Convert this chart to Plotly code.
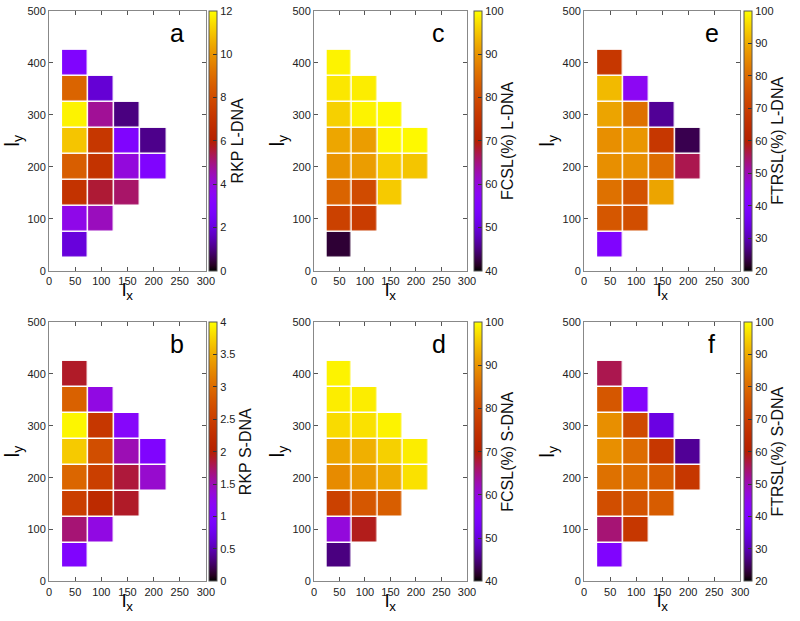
import numpy as np
import plotly.graph_objects as go

# ---------------- data ----------------
x_centers = [50, 100, 150, 200]
y_centers = [50, 100, 150, 200, 250, 300, 350, 400]
N = None

# rows: y = 50 ... 400 ; columns: x = 50, 100, 150, 200
rkp_l_dna = [
    [2.0, N, N, N],
    [3.8, 4.4, N, N],
    [7.0, 5.6, 5.2, N],
    [8.6, 7.0, 4.0, 3.0],
    [11.0, 7.2, 3.0, 1.1],
    [11.8, 4.8, 1.0, N],
    [8.8, 1.9, N, N],
    [3.0, N, N, N],
]
rkp_s_dna = [
    [1.0, N, N, N],
    [1.7, 1.3, N, N],
    [2.5, 2.2, 1.9, N],
    [2.95, 2.5, 1.85, 1.4],
    [3.7, 2.7, 1.5, 1.0],
    [3.95, 2.4, 1.1, N],
    [2.9, 1.3, N, N],
    [1.9, N, N, N],
]
fcsl_l_dna = [
    [42, N, N, N],
    [78, 77, N, N],
    [84, 80, 95.5, N],
    [90, 91, 95.5, 95],
    [92, 91, 99.5, 99.5],
    [96, 99, 99.5, N],
    [98, 98.5, N, N],
    [99, N, N, N],
]
fcsl_s_dna = [
    [45, N, N, N],
    [60, 69, N, N],
    [78, 82, 83, N],
    [89, 90.5, 92.5, 97.5],
    [92, 93, 96, 98.5],
    [97, 97.5, 99, N],
    [98.5, 98.5, N, N],
    [99, N, N, N],
]
ftrsl_l_dna = [
    [40, N, N, N],
    [76, 74, N, N],
    [81, 75, 89, N],
    [86, 86, 80, 56],
    [86, 87, 68, 24],
    [89, 81, 28, N],
    [92, 44, N, N],
    [68, N, N, N],
]
ftrsl_s_dna = [
    [40, N, N, N],
    [54, 68, N, N],
    [74, 75, 77, N],
    [81, 80, 77, 68],
    [86, 80, 68, 28],
    [86, 73, 34, N],
    [76, 41.5, N, N],
    [56, N, N, N],
]

panel_letters = ["a", "c", "e", "b", "d", "f"]
cb_titles = ["RKP L-DNA", "FCSL(%) L-DNA", "FTRSL(%) L-DNA",
             "RKP S-DNA", "FCSL(%) S-DNA", "FTRSL(%) S-DNA"]
cb_ranges = [(0, 12), (40, 100), (20, 100), (0, 4), (40, 100), (20, 100)]
cb_dtick = [2, 10, 10, 0.5, 10, 10]
x_ticks = [0, 50, 100, 150, 200, 250, 300]
y_ticks = [0, 100, 200, 300, 400, 500]

panel_data = [rkp_l_dna, fcsl_l_dna, ftrsl_l_dna, rkp_s_dna, fcsl_s_dna, ftrsl_s_dna]

# ---------------- gnuplot default palette (7,5,15) ----------------
ts = np.linspace(0, 1, 51)
colorscale = []
for t in ts:
    r = np.sqrt(t)
    g = t ** 3
    b = min(max(np.sin(2 * np.pi * t), 0), 1)
    colorscale.append([float(t), f"rgb({int(round(r*255))},{int(round(g*255))},{int(round(b*255))})"])

W, H = 800, 621
FONT = "Liberation Sans, Arial, sans-serif"

# pixel geometry of plot areas
cols_px = [(46.7, 206.0), (315.7, 471.0), (590.0, 748.5)]
rows_px = [(5.0, 270.0), (322.3, 586.7)]
cb_left = [209.3, 478.3, 752.7]

fig = go.Figure()
annotations = []
layout_axes = {}

for i in range(6):
    r_i, c_i = divmod(i, 3)
    x0, x1 = cols_px[c_i]
    y0, y1 = rows_px[r_i]
    ax_n = "" if i == 0 else str(i + 1)
    xdom = [x0 / W, x1 / W]
    ydom = [1 - y1 / H, 1 - y0 / H]
    zmin, zmax = cb_ranges[i]
    cb_ticks = list(np.round(np.arange(zmin, zmax + 1e-9, cb_dtick[i]), 3))
    cb_text = [(f"{v:g}") for v in cb_ticks]

    fig.add_trace(go.Heatmap(
        x=x_centers, y=y_centers, z=panel_data[i],
        xaxis="x" + ax_n, yaxis="y" + ax_n,
        colorscale=colorscale, zmin=zmin, zmax=zmax,
        xgap=1.5, ygap=1.5, hoverongaps=False,
        colorbar=dict(
            x=cb_left[c_i] / W, xanchor="left", xpad=0,
            y=(ydom[0] + ydom[1]) / 2, yanchor="middle", ypad=0,
            len=ydom[1] - ydom[0], lenmode="fraction",
            thickness=8, thicknessmode="pixels",
            outlinewidth=1, outlinecolor="#555",
            tickmode="array", tickvals=cb_ticks, ticktext=cb_text,
            ticks="inside", ticklen=4, tickcolor="#333",
            tickfont=dict(family=FONT, size=11, color="#222"),
            title=dict(text=cb_titles[i], side="right",
                       font=dict(family=FONT, size=16, color="#111")),
        ),
    ))

    common = dict(showline=True, linecolor="#888", linewidth=1, mirror="allticks",
                  ticks="inside", ticklen=4, tickcolor="#555",
                  showgrid=False, zeroline=False, fixedrange=True,
                  tickfont=dict(family=FONT, size=11, color="#222"))
    layout_axes["xaxis" + ax_n] = dict(domain=xdom, range=[0, 300], tickvals=x_ticks,
                                       anchor="y" + ax_n, **common)
    layout_axes["yaxis" + ax_n] = dict(domain=ydom, range=[0, 500], tickvals=y_ticks,
                                       anchor="x" + ax_n, **common)

    # panel letter
    annotations.append(dict(text=panel_letters[i], x=245, y=458,
                            xref="x" + ax_n, yref="y" + ax_n, showarrow=False,
                            font=dict(family=FONT, size=25, color="#000")))
    # axis titles
    annotations.append(dict(text="l<sub>x</sub>", x=(x0 + x1) / 2 / W, y=1 - (y1 + 34) / H,
                            xref="paper", yref="paper", showarrow=False,
                            xanchor="center", yanchor="bottom", borderpad=0,
                            font=dict(family=FONT, size=19, color="#000")))
    annotations.append(dict(text="l<sub>y</sub>", x=(x0 - 36) / W, y=1 - ((y0 + y1) / 2) / H,
                            xref="paper", yref="paper", showarrow=False, textangle=-90,
                            xanchor="center", yanchor="middle",
                            font=dict(family=FONT, size=20, color="#000")))

fig.update_layout(
    width=W, height=H, margin=dict(l=0, r=0, t=0, b=0),
    paper_bgcolor="white", plot_bgcolor="white",
    showlegend=False, annotations=annotations,
    **layout_axes,
)

fig.write_html("out.html", config={"displayModeBar": False},
               post_script="document.body.style.margin='0';")
